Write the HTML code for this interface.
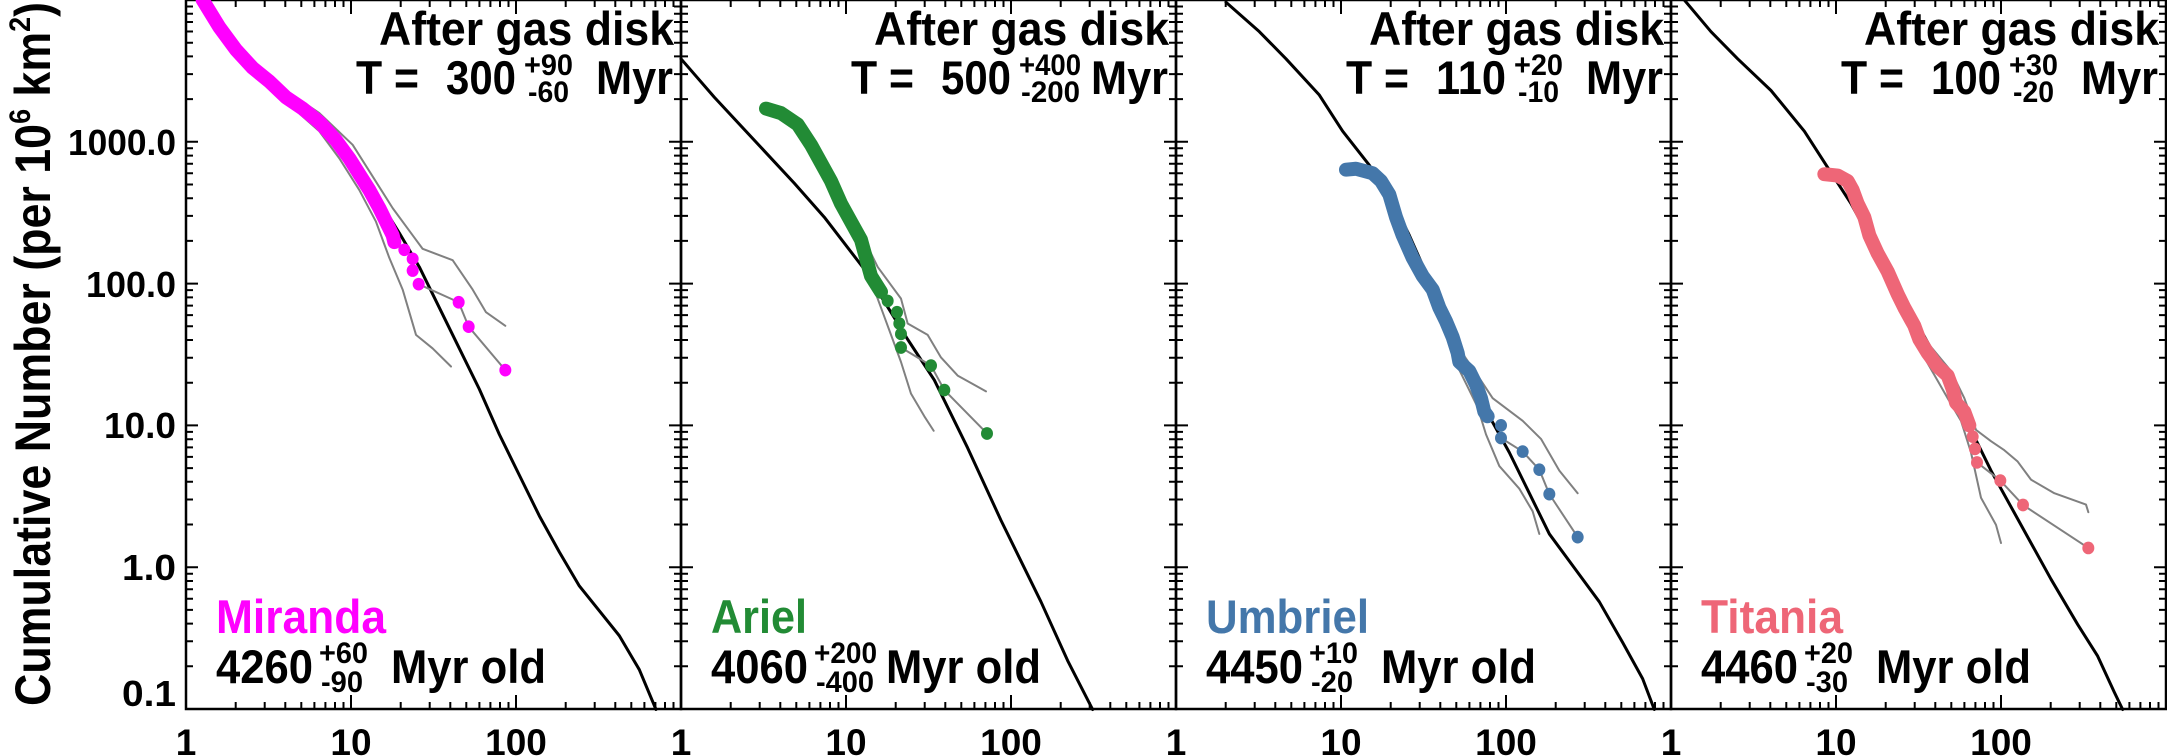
<!DOCTYPE html>
<html><head><meta charset="utf-8"><style>
html,body{margin:0;padding:0;background:#fff;}
svg{display:block;}
text{font-family:"Liberation Sans",Arial,sans-serif;font-weight:bold;fill:#000;}
</style></head><body>
<svg width="2167" height="756" viewBox="0 0 2167 756" xmlns="http://www.w3.org/2000/svg">
<defs>
<g id="ax" fill="none" stroke="#000">
<rect x="0" y="0" width="495" height="709" stroke-width="2.5"/>
<path stroke-width="2" d="M165 709v-14M330 709v-14M165 0v14M330 0v14
M49.7 709v-7M78.7 709v-7M99.3 709v-7M115.3 709v-7M128.4 709v-7M139.4 709v-7M149 709v-7M157.5 709v-7
M214.7 709v-7M243.7 709v-7M264.3 709v-7M280.3 709v-7M293.4 709v-7M304.4 709v-7M314 709v-7M322.5 709v-7
M379.7 709v-7M408.7 709v-7M429.3 709v-7M445.3 709v-7M458.4 709v-7M469.4 709v-7M479 709v-7M487.5 709v-7
M49.7 0v7M78.7 0v7M99.3 0v7M115.3 0v7M128.4 0v7M139.4 0v7M149 0v7M157.5 0v7
M214.7 0v7M243.7 0v7M264.3 0v7M280.3 0v7M293.4 0v7M304.4 0v7M314 0v7M322.5 0v7
M379.7 0v7M408.7 0v7M429.3 0v7M445.3 0v7M458.4 0v7M469.4 0v7M479 0v7M487.5 0v7
M0 567.2h12M0 425.4h12M0 283.6h12M0 141.8h12M495 567.2h-12M495 425.4h-12M495 283.6h-12M495 141.8h-12"/>
<path id="ym" stroke-width="2" d="M0 666.3h7M0 641.3h7M0 623.6h7M0 609.9h7M0 598.7h7M0 589.2h7M0 581h7M0 573.7h7
M0 524.5h7M0 499.5h7M0 481.8h7M0 468.1h7M0 456.9h7M0 447.4h7M0 439.2h7M0 431.9h7
M0 382.7h7M0 357.7h7M0 340h7M0 326.3h7M0 315.1h7M0 305.6h7M0 297.4h7M0 290.1h7
M0 240.9h7M0 215.9h7M0 198.2h7M0 184.5h7M0 173.3h7M0 163.8h7M0 155.6h7M0 148.3h7
M0 99.1h7M0 74.1h7M0 56.4h7M0 42.7h7M0 31.5h7M0 22h7M0 13.8h7M0 6.5h7"/>
<use href="#ym" transform="translate(495,0) scale(-1,1)"/>
</g>
</defs>

<text transform="translate(50,706) rotate(-90)" font-size="50" textLength="704" lengthAdjust="spacingAndGlyphs">Cumulative Number (per 10<tspan font-size="30" dy="-20">6</tspan><tspan dy="20"> km</tspan><tspan font-size="30" dy="-20">2</tspan><tspan dy="20">)</tspan></text>

<g font-size="36" text-anchor="end">
<text x="176" y="155" textLength="108" lengthAdjust="spacingAndGlyphs">1000.0</text>
<text x="176" y="297" textLength="90" lengthAdjust="spacingAndGlyphs">100.0</text>
<text x="176" y="438" textLength="72" lengthAdjust="spacingAndGlyphs">10.0</text>
<text x="176" y="580" textLength="54" lengthAdjust="spacingAndGlyphs">1.0</text>
<text x="176" y="706" textLength="54" lengthAdjust="spacingAndGlyphs">0.1</text>
</g>

<g font-size="37" text-anchor="middle">
<text x="186" y="755">1</text><text x="351" y="755">10</text><text x="516" y="755">100</text>
<text x="681" y="755">1</text><text x="846" y="755">10</text><text x="1011" y="755">100</text>
<text x="1176" y="755">1</text><text x="1341" y="755">10</text><text x="1506" y="755">100</text>
<text x="1671" y="755">1</text><text x="1836" y="755">10</text><text x="2001" y="755">100</text>
</g>

<g transform="translate(186,0)">
<use href="#ax"/>
<g transform="scale(0.33333,0.45249)" fill="none" stroke-linejoin="round" stroke-linecap="round">
<polyline vector-effect="non-scaling-stroke" stroke="#000" stroke-width="3" points="560,420 640,515 700,590 760,680 820,770 880,860 940,960 1000,1050 1060,1140 1120,1220 1180,1295 1240,1350 1300,1405 1360,1480 1410,1568"/>
<polyline vector-effect="non-scaling-stroke" stroke="#808080" stroke-width="2" points="300,200 400,250 500,320 560,390 620,460 680,520 710,550 800,575 860,640 900,690 958,720"/>
<polyline vector-effect="non-scaling-stroke" stroke="#808080" stroke-width="2" points="300,225 400,290 460,350 520,420 570,490 610,570 650,640 690,740 740,770 795,810"/>
<polyline vector-effect="non-scaling-stroke" stroke="#808080" stroke-width="2" points="698,628 818,668 848,722 958,818"/>
<polyline vector-effect="non-scaling-stroke" stroke="#ff00ff" stroke-width="14" points="50,0 100,60 150,110 200,150 250,180 300,215 350,240 400,270 450,310 490,350 520,385 550,420 580,460 600,490 620,520 625,535"/>
<g fill="#ff00ff"><ellipse cx="655" cy="552" rx="18" ry="14"/><ellipse cx="680" cy="572" rx="18" ry="14"/><ellipse cx="680" cy="598" rx="18" ry="14"/><ellipse cx="698" cy="628" rx="18" ry="14"/><ellipse cx="818" cy="668" rx="18" ry="14"/><ellipse cx="848" cy="722" rx="18" ry="14"/><ellipse cx="958" cy="818" rx="18" ry="14"/><ellipse cx="625" cy="535" rx="18" ry="14"/></g>
</g>
</g>

<g transform="translate(681,0)">
<use href="#ax"/>
<g transform="scale(0.33333,0.45249)" fill="none" stroke-linejoin="round" stroke-linecap="round">
<polyline vector-effect="non-scaling-stroke" stroke="#000" stroke-width="3" points="0,130 100,215 220,310 340,405 430,480 550,595 680,750 760,840 860,990 960,1150 1080,1330 1160,1460 1235,1568"/>
<polyline vector-effect="non-scaling-stroke" stroke="#808080" stroke-width="2" points="490,450 560,545 590,590 630,630 660,660 680,715 740,740 780,790 830,830 915,865"/>
<polyline vector-effect="non-scaling-stroke" stroke="#808080" stroke-width="2" points="490,450 560,600 600,680 640,760 660,800 690,870 730,920 758,952"/>
<polyline vector-effect="non-scaling-stroke" stroke="#808080" stroke-width="2" points="660,768 750,808 790,862 918,958"/>
<polyline vector-effect="non-scaling-stroke" stroke="#228b35" stroke-width="14" points="255,240 300,250 350,275 390,320 420,360 450,400 480,450 510,490 540,530 555,570 570,610 600,645"/>
<g fill="#228b35"><ellipse cx="620" cy="665" rx="18" ry="14"/><ellipse cx="648" cy="690" rx="18" ry="14"/><ellipse cx="655" cy="715" rx="18" ry="14"/><ellipse cx="660" cy="738" rx="18" ry="14"/><ellipse cx="660" cy="768" rx="18" ry="14"/><ellipse cx="750" cy="808" rx="18" ry="14"/><ellipse cx="790" cy="862" rx="18" ry="14"/><ellipse cx="918" cy="958" rx="18" ry="14"/></g>
</g>
</g>

<g transform="translate(1176,0)">
<use href="#ax"/>
<g transform="scale(0.33333,0.45249)" fill="none" stroke-linejoin="round" stroke-linecap="round">
<polyline vector-effect="non-scaling-stroke" stroke="#000" stroke-width="3" points="150,5 250,70 330,130 430,210 500,290 580,365 640,430 700,520 760,620 820,720 880,820 940,920 1000,1000 1060,1090 1120,1180 1200,1260 1270,1330 1340,1420 1400,1500 1435,1568"/>
<polyline vector-effect="non-scaling-stroke" stroke="#808080" stroke-width="2" points="840,760 905,830 950,880 1040,930 1095,970 1150,1040 1205,1090"/>
<polyline vector-effect="non-scaling-stroke" stroke="#808080" stroke-width="2" points="845,810 905,900 930,960 970,1030 1030,1080 1070,1130 1090,1180"/>
<polyline vector-effect="non-scaling-stroke" stroke="#808080" stroke-width="2" points="975,968 1040,998 1090,1038 1120,1092 1205,1187"/>
<polyline vector-effect="non-scaling-stroke" stroke="#4477aa" stroke-width="14" points="510,375 540,373 590,383 615,400 640,430 660,480 680,520 710,570 740,610 770,640 790,680 810,710 830,745 845,780 850,800 880,820 900,850 915,880 925,910 935,920"/>
<g fill="#4477aa"><ellipse cx="975" cy="940" rx="18" ry="14"/><ellipse cx="975" cy="968" rx="18" ry="14"/><ellipse cx="1040" cy="998" rx="18" ry="14"/><ellipse cx="1090" cy="1038" rx="18" ry="14"/><ellipse cx="1120" cy="1092" rx="18" ry="14"/><ellipse cx="1205" cy="1187" rx="18" ry="14"/></g>
</g>
</g>

<g transform="translate(1671,0)">
<use href="#ax"/>
<g transform="scale(0.33333,0.45249)" fill="none" stroke-linejoin="round" stroke-linecap="round">
<polyline vector-effect="non-scaling-stroke" stroke="#000" stroke-width="3" points="40,0 120,70 200,130 300,200 400,290 470,370 540,450 600,530 660,610 720,690 780,770 840,850 900,950 960,1040 1020,1120 1080,1200 1140,1280 1220,1380 1280,1450 1330,1530 1355,1568"/>
<polyline vector-effect="non-scaling-stroke" stroke="#808080" stroke-width="2" points="750,740 840,820 880,880 915,950 960,975 1000,995 1040,1020 1080,1060 1150,1090 1245,1115 1252,1132"/>
<polyline vector-effect="non-scaling-stroke" stroke="#808080" stroke-width="2" points="760,790 830,880 870,930 900,1000 930,1100 975,1160 990,1200"/>
<polyline vector-effect="non-scaling-stroke" stroke="#808080" stroke-width="2" points="918,1022 988,1062 1056,1116 1252,1211"/>
<polyline vector-effect="non-scaling-stroke" stroke="#ee6677" stroke-width="14" points="460,385 500,388 530,400 545,420 560,450 580,480 595,520 620,560 650,600 680,650 700,680 730,720 745,750 770,780 800,810 830,830 845,860 855,890 880,910 895,940"/>
<g fill="#ee6677"><ellipse cx="905" cy="965" rx="18" ry="14"/><ellipse cx="912" cy="992" rx="18" ry="14"/><ellipse cx="918" cy="1022" rx="18" ry="14"/><ellipse cx="988" cy="1062" rx="18" ry="14"/><ellipse cx="1056" cy="1116" rx="18" ry="14"/><ellipse cx="1252" cy="1211" rx="18" ry="14"/></g>
</g>
</g>

<g font-size="47">
<g transform="translate(186,0)">
<text x="193" y="45" textLength="295" lengthAdjust="spacingAndGlyphs">After gas disk</text>
<text x="170" y="94" textLength="63" lengthAdjust="spacingAndGlyphs">T =</text>
<text x="260" y="94" textLength="70" lengthAdjust="spacingAndGlyphs">300</text>
<text x="338" y="75" font-size="30" textLength="49" lengthAdjust="spacingAndGlyphs">+90</text>
<text x="342" y="102" font-size="30" textLength="41" lengthAdjust="spacingAndGlyphs">-60</text>
<text x="410" y="94" textLength="77" lengthAdjust="spacingAndGlyphs">Myr</text>
<text x="30" y="633" style="fill:#ff00ff" textLength="170" lengthAdjust="spacingAndGlyphs">Miranda</text>
<text x="30" y="683" textLength="97" lengthAdjust="spacingAndGlyphs">4260</text>
<text x="133" y="663" font-size="30" textLength="49" lengthAdjust="spacingAndGlyphs">+60</text>
<text x="135" y="692" font-size="30" textLength="42" lengthAdjust="spacingAndGlyphs">-90</text>
<text x="205" y="683" textLength="155" lengthAdjust="spacingAndGlyphs">Myr old</text>
</g>
<g transform="translate(681,0)">
<text x="193" y="45" textLength="295" lengthAdjust="spacingAndGlyphs">After gas disk</text>
<text x="170" y="94" textLength="63" lengthAdjust="spacingAndGlyphs">T =</text>
<text x="260" y="94" textLength="70" lengthAdjust="spacingAndGlyphs">500</text>
<text x="338" y="75" font-size="30" textLength="62" lengthAdjust="spacingAndGlyphs">+400</text>
<text x="340" y="102" font-size="30" textLength="59" lengthAdjust="spacingAndGlyphs">-200</text>
<text x="410" y="94" textLength="77" lengthAdjust="spacingAndGlyphs">Myr</text>
<text x="30" y="633" style="fill:#228b35" textLength="96" lengthAdjust="spacingAndGlyphs">Ariel</text>
<text x="30" y="683" textLength="97" lengthAdjust="spacingAndGlyphs">4060</text>
<text x="133" y="663" font-size="30" textLength="63" lengthAdjust="spacingAndGlyphs">+200</text>
<text x="135" y="692" font-size="30" textLength="58" lengthAdjust="spacingAndGlyphs">-400</text>
<text x="205" y="683" textLength="155" lengthAdjust="spacingAndGlyphs">Myr old</text>
</g>
<g transform="translate(1176,0)">
<text x="193" y="45" textLength="295" lengthAdjust="spacingAndGlyphs">After gas disk</text>
<text x="170" y="94" textLength="63" lengthAdjust="spacingAndGlyphs">T =</text>
<text x="260" y="94" textLength="70" lengthAdjust="spacingAndGlyphs">110</text>
<text x="338" y="75" font-size="30" textLength="49" lengthAdjust="spacingAndGlyphs">+20</text>
<text x="342" y="102" font-size="30" textLength="41" lengthAdjust="spacingAndGlyphs">-10</text>
<text x="410" y="94" textLength="77" lengthAdjust="spacingAndGlyphs">Myr</text>
<text x="30" y="633" style="fill:#4477aa" textLength="163" lengthAdjust="spacingAndGlyphs">Umbriel</text>
<text x="30" y="683" textLength="97" lengthAdjust="spacingAndGlyphs">4450</text>
<text x="133" y="663" font-size="30" textLength="49" lengthAdjust="spacingAndGlyphs">+10</text>
<text x="135" y="692" font-size="30" textLength="42" lengthAdjust="spacingAndGlyphs">-20</text>
<text x="205" y="683" textLength="155" lengthAdjust="spacingAndGlyphs">Myr old</text>
</g>
<g transform="translate(1671,0)">
<text x="193" y="45" textLength="295" lengthAdjust="spacingAndGlyphs">After gas disk</text>
<text x="170" y="94" textLength="63" lengthAdjust="spacingAndGlyphs">T =</text>
<text x="260" y="94" textLength="70" lengthAdjust="spacingAndGlyphs">100</text>
<text x="338" y="75" font-size="30" textLength="49" lengthAdjust="spacingAndGlyphs">+30</text>
<text x="342" y="102" font-size="30" textLength="41" lengthAdjust="spacingAndGlyphs">-20</text>
<text x="410" y="94" textLength="77" lengthAdjust="spacingAndGlyphs">Myr</text>
<text x="30" y="633" style="fill:#ee6677" textLength="142" lengthAdjust="spacingAndGlyphs">Titania</text>
<text x="30" y="683" textLength="97" lengthAdjust="spacingAndGlyphs">4460</text>
<text x="133" y="663" font-size="30" textLength="49" lengthAdjust="spacingAndGlyphs">+20</text>
<text x="135" y="692" font-size="30" textLength="42" lengthAdjust="spacingAndGlyphs">-30</text>
<text x="205" y="683" textLength="155" lengthAdjust="spacingAndGlyphs">Myr old</text>
</g>
</g>
</svg>
</body></html>
